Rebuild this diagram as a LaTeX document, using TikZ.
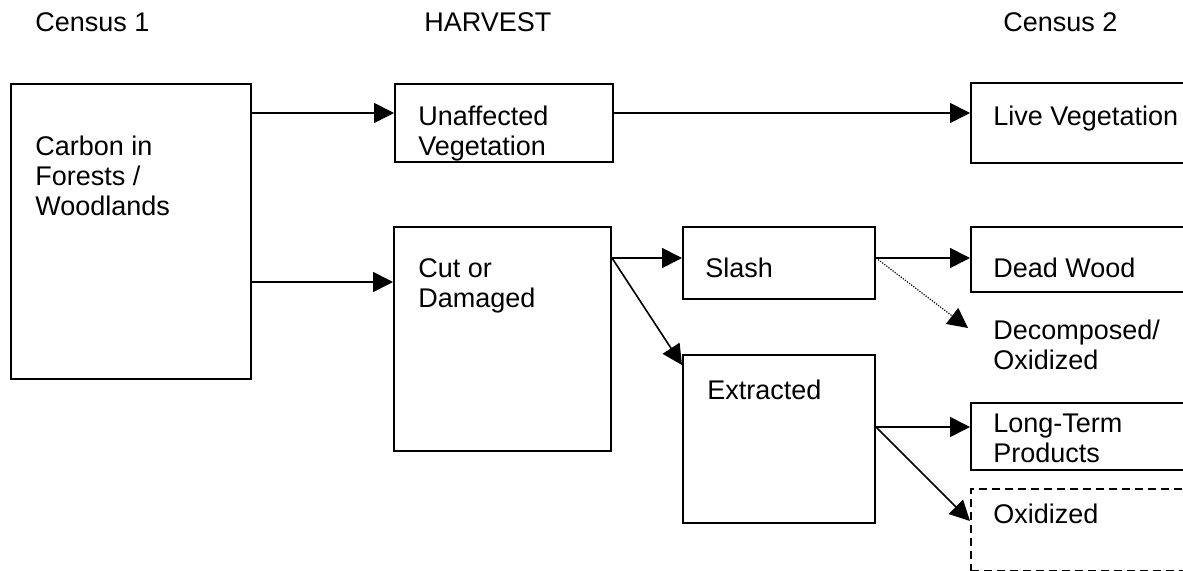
\documentclass[tikz,border=0pt]{standalone}
\usepackage{fontspec}
\setmainfont{Liberation Sans}
\usetikzlibrary{arrows.meta}
\tikzset{
  stage/.style={draw, line width=1pt, inner sep=0pt, anchor=north west},
  label/.style={anchor=base west, align=left, inner sep=0pt,
    font=\fontsize{13.5}{15}\selectfont},
  flow/.style={line width=0.8pt, -{Triangle[length=10pt,width=10pt]}},
  loss/.style={line width=0.6pt, dash pattern=on 0.6pt off 0.7pt,
    -{Triangle[length=10pt,width=10pt]}}
}
\begin{document}
\begin{tikzpicture}[x=0.5pt, y=-0.5pt]
  \useasboundingbox (0,0) rectangle (1183,571);
  \clip (0,0) rectangle (1183,571);

  % column headings
  \node[label] (census1) at (35,32) {Census 1};
  \node[label] (harvest) at (424,32) {HARVEST};
  \node[label] (census2) at (1003,32) {Census 2};

  % boxes
  \node[stage, minimum width=120pt, minimum height=147.5pt] (carbon) at (10,83) {};
  \node[stage, minimum width=109pt, minimum height=39pt] (unaff) at (394,83) {};
  \node[stage, minimum width=120pt, minimum height=40pt] (live) at (970,82) {};
  \node[stage, minimum width=108.5pt, minimum height=112pt] (cut) at (393,226) {};
  \node[stage, minimum width=96pt, minimum height=36pt] (slash) at (682,226) {};
  \node[stage, minimum width=120pt, minimum height=32.5pt] (dead) at (970,226) {};
  \node[stage, minimum width=96pt, minimum height=84pt] (extr) at (682,354) {};
  \node[stage, minimum width=120pt, minimum height=33.5pt] (ltp) at (970,402) {};
  \node[stage, dash pattern=on 4pt off 2.5pt, minimum width=120pt,
        minimum height=41pt] (oxbox) at (970,488) {};

  % box texts (a multi-line label sits on the baseline of its last line)
  \node[label] (tcarbon) at (35,216) {Carbon in\\Forests /\\Woodlands};
  \node[label] (tunaff) at (418,156) {Unaffected\\Vegetation};
  \node[label] (tlive) at (993,126) {Live Vegetation};
  \node[label] (tcut) at (418,308) {Cut or\\Damaged};
  \node[label] (tslash) at (705,278) {Slash};
  \node[label] (tdead) at (993,278) {Dead Wood};
  \node[label] (tdecomp) at (993,370) {Decomposed/\\Oxidized};
  \node[label] (textr) at (707,400) {Extracted};
  \node[label] (tltp) at (993,462) {Long-Term\\Products};
  \node[label] (tox) at (993,523) {Oxidized};

  \coordinate (dectip) at (968,328);

  % flows
  \draw[flow] (carbon.east |- 0,113) -- (unaff.west |- 0,113);
  \draw[flow] (carbon.east |- 0,282) -- (cut.west |- 0,282);
  \draw[flow] (unaff.east |- 0,113) -- (live.west |- 0,113);
  \draw[flow] (cut.east |- 0,258) -- (slash.west |- 0,258);
  \draw[flow] (cut.east |- 0,258) -- (extr.west |- 0,365);
  \draw[flow] (slash.east |- 0,258) -- (dead.west |- 0,258);
  \draw[loss] (slash.east |- 0,258) -- (dectip);
  \draw[flow] (extr.east |- 0,427) -- (ltp.west |- 0,427);
  \draw[flow] (extr.east |- 0,427) -- (oxbox.west |- 0,521);
\end{tikzpicture}
\end{document}
